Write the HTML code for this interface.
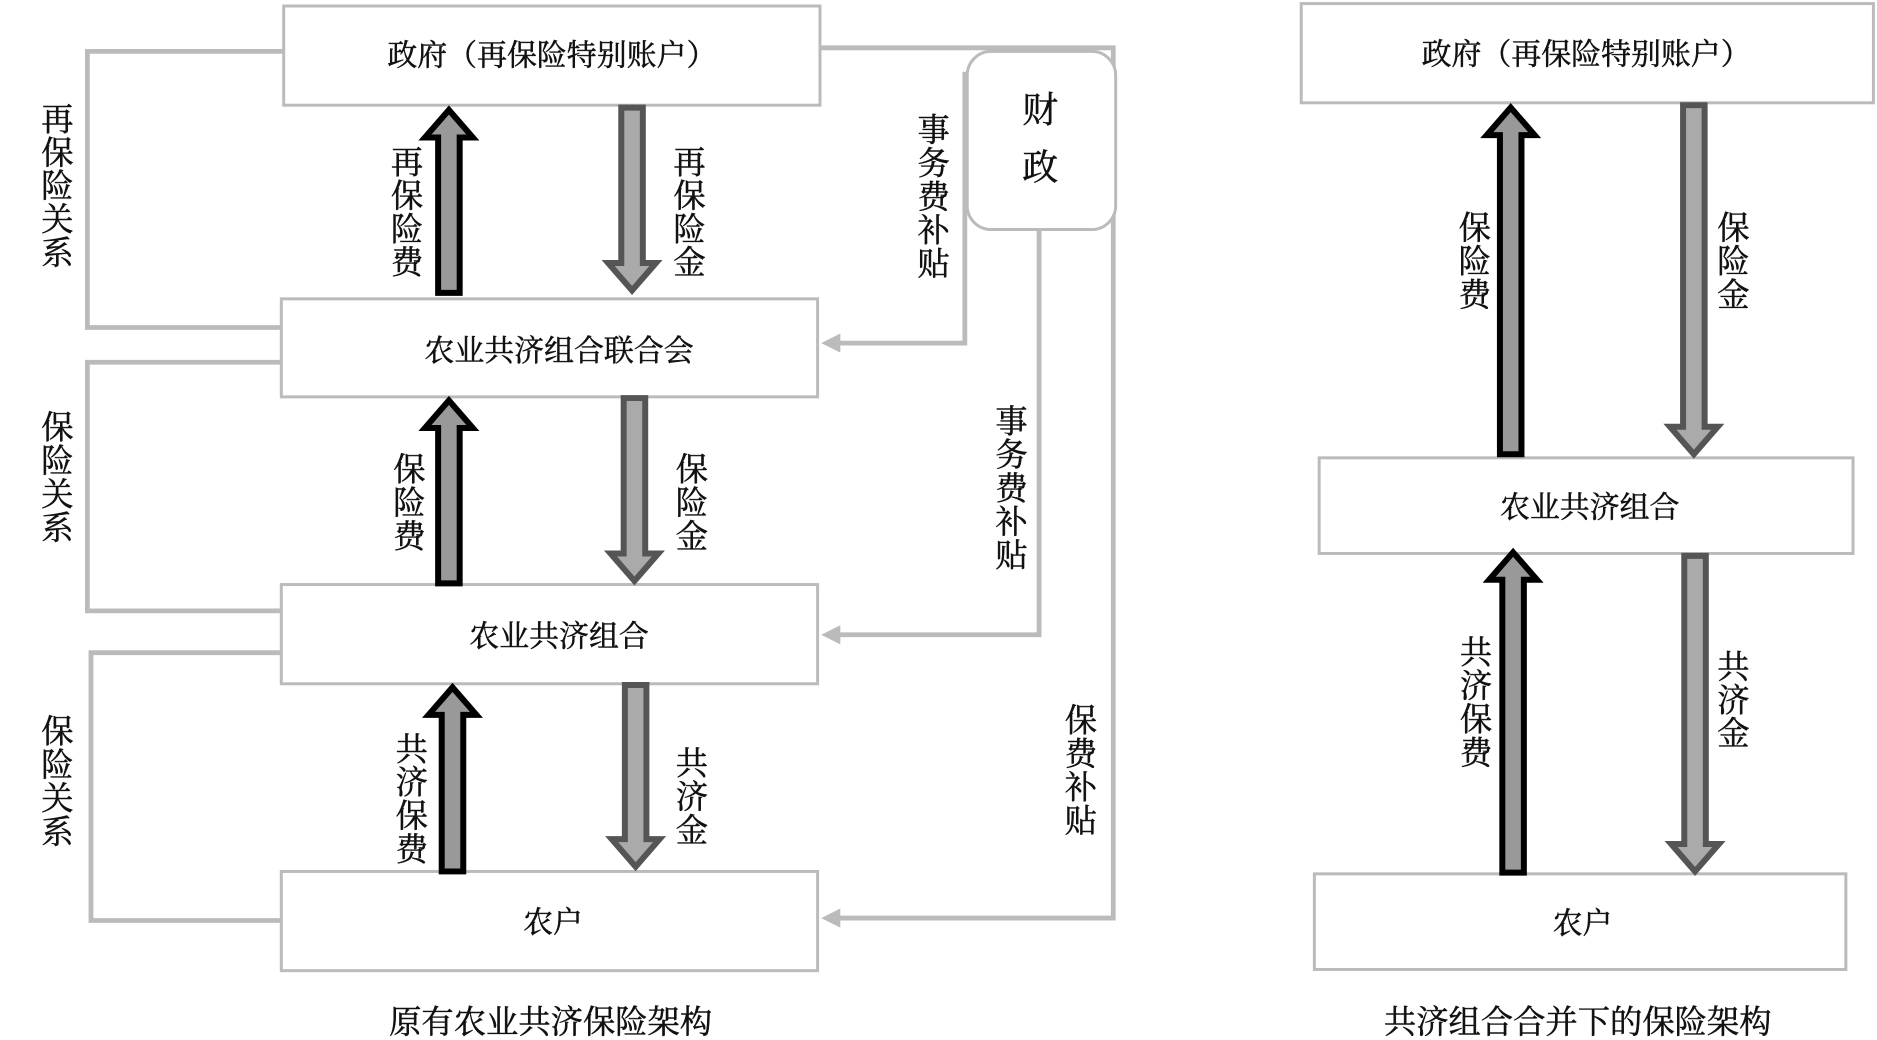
<!DOCTYPE html>
<html><head><meta charset="utf-8"><style>html,body{margin:0;padding:0;background:#fff}svg{display:block}text{font-family:"Liberation Serif","Noto Serif CJK SC","Noto Sans CJK SC",serif;fill:#111;stroke:#111;stroke-width:0.4}</style></head><body>
<svg width="1877" height="1040" viewBox="0 0 1568 870" preserveAspectRatio="none" xmlns="http://www.w3.org/2000/svg">
<g fill="#fff" stroke="#bbb" stroke-width="2.5">
<rect x="237" y="5" width="448" height="83"/>
<rect x="235" y="250" width="448" height="82"/>
<rect x="235" y="489" width="448" height="83"/>
<rect x="235" y="729" width="448" height="83"/>
<rect x="1087" y="3" width="478" height="83"/>
<rect x="1102" y="383" width="446" height="80"/>
<rect x="1098" y="731" width="444" height="80"/>
</g>
<g fill="none" stroke="#bbb" stroke-width="4">
<polyline points="237,43 73,43 73,274 235,274"/>
<polyline points="235,303 73,303 73,511 235,511"/>
<polyline points="235,546 76,546 76,770 235,770"/>
<polyline points="685,40 930,40 930,768 700,768"/>
<polyline points="806,60 806,287 700,287"/>
<polyline points="868,192 868,531 700,531"/>
</g>
<g fill="#bbb"><path d="M686,768 L702,760 L702,776Z"/><path d="M686,287 L702,279 L702,295Z"/><path d="M686,531 L702,523 L702,539Z"/></g>
<rect x="808" y="43" width="124" height="149" rx="20" fill="#fff" stroke="#bbb" stroke-width="2.5"/>
<g stroke-width="5">
<g fill="#999" stroke="#000">
<path d="M366,245 V115 H355 L375,92 L395,115 H384 V245Z"/>
<path d="M366,488 V358 H355 L375,335 L395,358 H384 V488Z"/>
<path d="M369,729 V598 H358 L378,575 L398,598 H387 V729Z"/>
<path d="M1253,380 V113 H1242 L1262,90 L1282,113 H1271 V380Z"/>
<path d="M1255,730 V485 H1244 L1264,462 L1284,485 H1273 V730Z"/>
</g>
<g fill="#aaa" stroke="#555">
<path d="M519,90 V220 H508 L528,243 L548,220 H537 V90Z"/>
<path d="M521,333 V463 H510 L530,486 L550,463 H539 V333Z"/>
<path d="M522,573 V702 H511 L531,725 L551,702 H540 V573Z"/>
<path d="M1406,88 V357 H1395 L1415,380 L1435,357 H1424 V88Z"/>
<path d="M1407,465 V706 H1396 L1416,729 L1436,706 H1425 V465Z"/>
</g>
</g>
<g font-size="25" text-anchor="middle">
<text x="461" y="55">政府（再保险特别账户）</text>
<text x="467" y="302">农业共济组合联合会</text>
<text x="467" y="541">农业共济组合</text>
<text x="462" y="780">农户</text>
<text x="1325" y="54">政府（再保险特别账户）</text>
<text x="1328" y="433">农业共济组合</text>
<text x="1322" y="781">农户</text>
</g>
<g font-size="27" text-anchor="middle">
<text x="460" y="864">原有农业共济保险架构</text>
<text x="1318" y="864">共济组合合并下的保险架构</text>
</g>
<g font-size="30" text-anchor="middle"><text x="869" y="102">财</text><text x="869" y="150">政</text></g>
<g font-size="27" text-anchor="middle">
<text x="48"><tspan x="48" y="109">再</tspan><tspan x="48" y="137">保</tspan><tspan x="48" y="165">险</tspan><tspan x="48" y="193">关</tspan><tspan x="48" y="221">系</tspan></text>
<text><tspan x="340" y="145">再</tspan><tspan x="340" y="173">保</tspan><tspan x="340" y="201">险</tspan><tspan x="340" y="229">费</tspan></text>
<text><tspan x="576" y="145">再</tspan><tspan x="576" y="173">保</tspan><tspan x="576" y="201">险</tspan><tspan x="576" y="229">金</tspan></text>
<text><tspan x="780" y="118">事</tspan><tspan x="780" y="146">务</tspan><tspan x="780" y="174">费</tspan><tspan x="780" y="202">补</tspan><tspan x="780" y="230">贴</tspan></text>
<text><tspan x="48" y="367">保</tspan><tspan x="48" y="395">险</tspan><tspan x="48" y="423">关</tspan><tspan x="48" y="451">系</tspan></text>
<text><tspan x="342" y="402">保</tspan><tspan x="342" y="430">险</tspan><tspan x="342" y="458">费</tspan></text>
<text><tspan x="578" y="402">保</tspan><tspan x="578" y="430">险</tspan><tspan x="578" y="458">金</tspan></text>
<text><tspan x="845" y="362">事</tspan><tspan x="845" y="390">务</tspan><tspan x="845" y="418">费</tspan><tspan x="845" y="446">补</tspan><tspan x="845" y="474">贴</tspan></text>
<text><tspan x="48" y="621">保</tspan><tspan x="48" y="649">险</tspan><tspan x="48" y="677">关</tspan><tspan x="48" y="705">系</tspan></text>
<text><tspan x="344" y="636">共</tspan><tspan x="344" y="664">济</tspan><tspan x="344" y="692">保</tspan><tspan x="344" y="720">费</tspan></text>
<text><tspan x="578" y="648">共</tspan><tspan x="578" y="676">济</tspan><tspan x="578" y="704">金</tspan></text>
<text><tspan x="903" y="612">保</tspan><tspan x="903" y="640">费</tspan><tspan x="903" y="668">补</tspan><tspan x="903" y="696">贴</tspan></text>
<text><tspan x="1232" y="200">保</tspan><tspan x="1232" y="228">险</tspan><tspan x="1232" y="256">费</tspan></text>
<text><tspan x="1448" y="200">保</tspan><tspan x="1448" y="228">险</tspan><tspan x="1448" y="256">金</tspan></text>
<text><tspan x="1233" y="555">共</tspan><tspan x="1233" y="583">济</tspan><tspan x="1233" y="611">保</tspan><tspan x="1233" y="639">费</tspan></text>
<text><tspan x="1448" y="567">共</tspan><tspan x="1448" y="595">济</tspan><tspan x="1448" y="623">金</tspan></text>
</g>
</svg>
</body></html>
